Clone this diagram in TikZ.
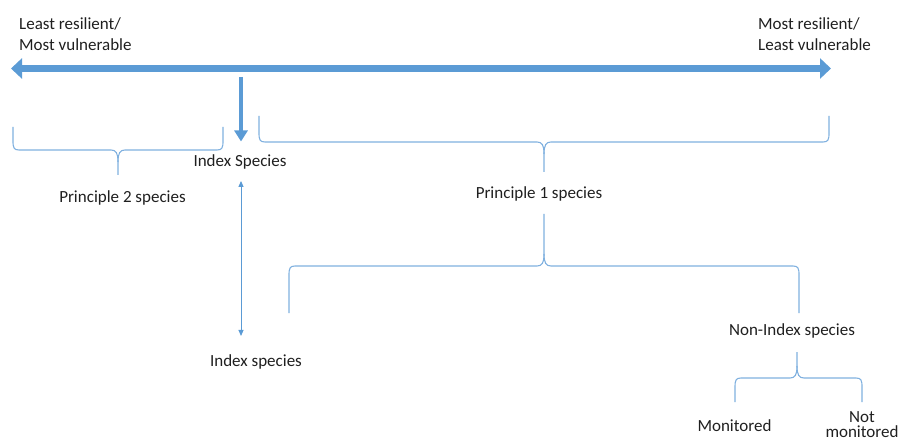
\documentclass[tikz,border=0pt]{standalone}
\usepackage{fontspec}
\setmainfont{Carlito}
\usetikzlibrary{arrows.meta}
\definecolor{arrowblue}{HTML}{5B9BD5}
\definecolor{braceblue}{HTML}{7FB0DF}
\definecolor{txt}{HTML}{1F1F1F}
\tikzset{
  lbl/.style={inner sep=0pt, text=txt, font=\fontsize{17}{21}\selectfont},
  brace/.style={draw=braceblue, line width=1.1pt},
  bigarrow/.style={draw=arrowblue, line width=7pt, {Triangle[length=11pt,width=20pt]}-{Triangle[length=11pt,width=20pt]}},
  droparrow/.style={draw=arrowblue, line width=4.5pt, -{Triangle[length=11pt,width=13pt]}},
  thinarrow/.style={draw=arrowblue, line width=1pt, {Triangle[length=6pt,width=5pt]}-{Triangle[length=6pt,width=5pt]}}
}
\newcommand\mybrace[7]{%
  \draw[brace] (#1,#4) -- (#1,{#5-(#7)*9}) .. controls (#1,{#5-(#7)*2}) and ({#1+1},#5) .. ({#1+6},#5)
    -- ({#3-7},#5) .. controls ({#3-2},#5) and (#3,{#5+(#7)*3}) .. (#3,{#5+(#7)*12}) -- (#3,#6);
  \draw[brace] (#2,#4) -- (#2,{#5-(#7)*9}) .. controls (#2,{#5-(#7)*2}) and ({#2-1},#5) .. ({#2-6},#5)
    -- ({#3+7},#5) .. controls ({#3+2},#5) and (#3,{#5+(#7)*3}) .. (#3,{#5+(#7)*12});
}
\begin{document}
\begin{tikzpicture}[x=1pt, y=-1pt]
\useasboundingbox (0,0) rectangle (901,443);

% labels (base anchor of multi-line nodes = last line)
\node[lbl, anchor=base west, align=left] (least) at (19,51) {Least resilient/\\Most vulnerable};
\node[lbl, anchor=base west, align=left] (most) at (758,51) {Most resilient/\\Least vulnerable};
\node[lbl, anchor=base] (idxS) at (240,167) {Index Species};
\node[lbl, anchor=base] (p2) at (122.5,203) {Principle 2 species};
\node[lbl, anchor=base] (p1) at (539,199) {Principle 1 species};
\node[lbl, anchor=base] (nonidx) at (792,335) {Non-Index species};
\node[lbl, anchor=base] (idx2) at (256,366) {Index species};
\node[lbl, anchor=base] (mon) at (734.5,431) {Monitored};
\node[lbl, anchor=base, align=center, font=\fontsize{17}{15.5}\selectfont] (notmon) at (862,437.5) {Not\\monitored};

% main axis
\coordinate (axL) at (11,68.5);
\coordinate (axR) at (831,68.5);
\draw[bigarrow] (axL) -- (axR);

% drop arrow to Index Species
\coordinate (drop) at (241,77);
\draw[droparrow, shorten >=13.5pt] (drop) -- (drop |- idxS.north);

% thin double arrow between Index Species and Index species
\draw[thinarrow, shorten <=11pt, shorten >=18pt] ([xshift=1pt]idxS.south) -- ([xshift=1pt]idxS.south |- idx2.north);

% braces: xL xR xC yEnds yLine yTip dir
\mybrace{13}{223}{118}{127}{150}{175}{1}
\mybrace{259}{829}{544}{116}{142}{172}{1}
\mybrace{289}{799}{544}{313}{266}{214}{-1}
\mybrace{735}{862}{797}{402}{378}{352}{-1}
\end{tikzpicture}
\end{document}
